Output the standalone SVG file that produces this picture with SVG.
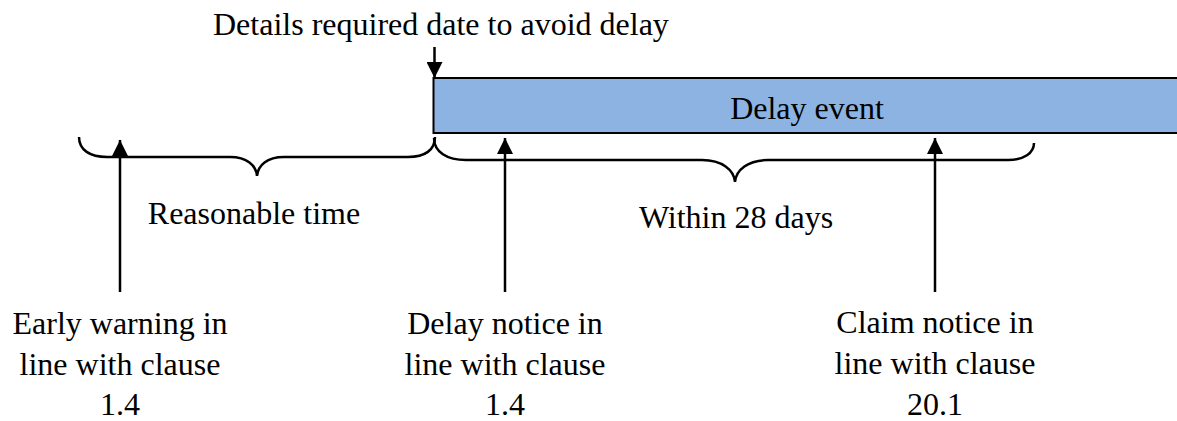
<svg xmlns="http://www.w3.org/2000/svg" width="1177" height="421" viewBox="0 0 1177 421">
  <style>
    .lbl { font-family: "Liberation Serif", "Times New Roman", serif; font-size: 32px; fill: #000; }
    .mid { text-anchor: middle; }
    .brace { fill: none; stroke: #000; stroke-width: 2.5; }
    .arrow { fill: none; stroke: #000; stroke-width: 2.5; marker-end: url(#head); }
  </style>
  <defs>
    <marker id="head" markerUnits="userSpaceOnUse" markerWidth="17" markerHeight="16" refX="16" refY="8" orient="auto" viewBox="0 0 17 16">
      <path d="M0,0 L16,8 L0,16 z" fill="#000"/>
    </marker>
  </defs>

  <rect width="1177" height="421" fill="#fff"/>

  <!-- deadline caption -->
  <g id="deadline">
    <text class="lbl" x="213" y="35">Details required date to avoid delay</text>
  </g>

  <!-- delay event bar, running off the right edge -->
  <g id="delay-event">
    <rect x="433.5" y="78" width="760" height="55" fill="#8DB3E2" stroke="#000" stroke-width="2"/>
    <text class="lbl mid" x="807" y="119">Delay event</text>
  </g>

  <!-- period braces -->
  <g id="reasonable-time">
    <path class="brace" d="M79,137 C79,150 90,157 107,157 L230,157 C247,157 256,165 257,176 C258,165 267,157 284,157 L408,157 C425,157 435,150 435,137"/>
    <text class="lbl mid" x="254" y="224">Reasonable time</text>
  </g>
  <g id="within-28-days">
    <path class="brace" d="M434,138 C434,152 447,160 466,160 L702,160 C722,160 734,170 735,182 C736,170 748,160 768,160 L1008,160 C1024,160 1034,153 1034,143"/>
    <text class="lbl mid" x="736" y="228">Within 28 days</text>
  </g>

  <!-- notices -->
  <g id="early-warning">
    <text class="lbl mid" x="120" y="334">Early warning in</text>
    <text class="lbl mid" x="120" y="375">line with clause</text>
    <text class="lbl mid" x="120" y="415">1.4</text>
  </g>
  <g id="delay-notice">
    <text class="lbl mid" x="505" y="334">Delay notice in</text>
    <text class="lbl mid" x="505" y="375">line with clause</text>
    <text class="lbl mid" x="505" y="415">1.4</text>
  </g>
  <g id="claim-notice">
    <text class="lbl mid" x="935" y="333">Claim notice in</text>
    <text class="lbl mid" x="935" y="374">line with clause</text>
    <text class="lbl mid" x="935" y="415">20.1</text>
  </g>

  <!-- connectors -->
  <g id="connectors">
    <line class="arrow" x1="434.5" y1="47" x2="434.5" y2="78"/>
    <line class="arrow" x1="120" y1="292" x2="120" y2="140"/>
    <line class="arrow" x1="505" y1="292" x2="505" y2="138"/>
    <line class="arrow" x1="935" y1="292" x2="935" y2="138"/>
  </g>
</svg>
